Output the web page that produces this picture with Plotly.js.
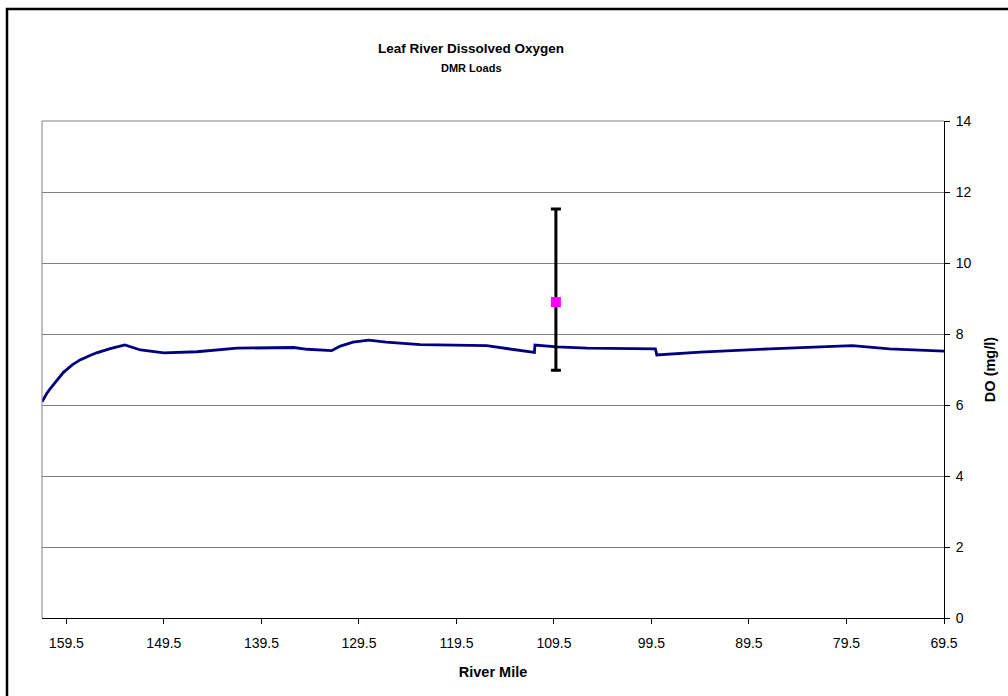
<!DOCTYPE html>
<html>
<head>
<meta charset="utf-8">
<script src="https://cdn.plot.ly/plotly-3.0.1.min.js"></script>
<style>
html,body{margin:0;padding:0;background:#fff;}
#chart{width:1008px;height:696px;}
</style>
</head>
<body>
<div id="chart"></div>
<script>
// Model DO profile (river mile, DO mg/l)
const riverMile = [162.0, 161.8, 161.5, 161.15, 160.46, 159.8, 158.9, 158.1, 157.2, 156.4, 155.0, 153.5, 151.9, 149.5, 146.1, 142.0, 136.2, 134.8, 132.3, 131.4, 130.1, 128.5, 126.7, 123.2, 116.4, 114.0, 111.5, 111.45, 109.2, 106.1, 99.1, 98.95, 94.5, 87.4, 78.9, 75.1, 69.5];
const doModel   = [6.09, 6.20, 6.33, 6.46, 6.70, 6.92, 7.13, 7.27, 7.38, 7.47, 7.59, 7.69, 7.55, 7.47, 7.50, 7.60, 7.62, 7.57, 7.53, 7.66, 7.77, 7.83, 7.77, 7.70, 7.67, 7.57, 7.48, 7.69, 7.64, 7.60, 7.58, 7.41, 7.49, 7.58, 7.67, 7.58, 7.52];

// Observed DO (mean with range)
const obsMile  = [109.3];
const obsDO    = [8.9];
const obsPlus  = [2.62];
const obsMinus = [1.92];

const xTicks = [159.5, 149.5, 139.5, 129.5, 119.5, 109.5, 99.5, 89.5, 79.5, 69.5];
const xTickText = ["159.5", "149.5", "139.5", "129.5", "119.5", "109.5", "99.5", "89.5", "79.5", "69.5"];

const FONT = "Liberation Sans, Arial, sans-serif";

const traces = [
  {
    x: riverMile, y: doModel, type: "scatter", mode: "lines",
    line: {color: "#000080", width: 2.8}, hoverinfo: "skip", showlegend: false
  },
  {
    x: obsMile, y: obsDO, type: "scatter", mode: "markers",
    marker: {symbol: "square", size: 10, color: "#ff00ff"},
    error_y: {type: "data", symmetric: false, array: obsPlus, arrayminus: obsMinus,
              color: "#000000", thickness: 3, width: 5},
    showlegend: false
  }
];

const layout = {
  width: 1008, height: 696,
  margin: {l: 42, r: 64, t: 121, b: 78, pad: 0},
  paper_bgcolor: "#ffffff", plot_bgcolor: "#ffffff",
  font: {family: FONT, size: 14, color: "#000"},
  showlegend: false,
  xaxis: {
    range: [162.0, 69.5], tickmode: "array", tickvals: xTicks, ticktext: xTickText,
    showgrid: false, zeroline: false, showline: true, linecolor: "#000", linewidth: 1,
    ticks: "outside", ticklen: 5, tickcolor: "#000", tickfont: {family: FONT, size: 14},
    ticklabelstandoff: 7,
    title: {text: "<b>River Mile</b>", font: {family: FONT, size: 14.5}, standoff: 17}
  },
  yaxis: {
    side: "right", range: [0, 14], dtick: 2, tick0: 0,
    showgrid: true, gridcolor: "#808080", gridwidth: 1, zeroline: false,
    showline: true, linecolor: "#000", linewidth: 1,
    ticks: "outside", ticklen: 5, tickcolor: "#000", tickfont: {family: FONT, size: 14},
    ticklabelstandoff: 3,
    title: {text: "<b>DO (mg/l)</b>", font: {family: FONT, size: 14.5}, standoff: 14}
  },
  annotations: [
    {text: "<b>Leaf River Dissolved Oxygen</b>", xref: "paper", yref: "paper",
     x: (471 - 42) / 902, y: (618 - 48) / 497, xanchor: "center", yanchor: "middle",
     showarrow: false, font: {family: FONT, size: 13.5}},
    {text: "<b>DMR Loads</b>", xref: "paper", yref: "paper",
     x: (471 - 42) / 902, y: (618 - 68) / 497, xanchor: "center", yanchor: "middle",
     showarrow: false, font: {family: FONT, size: 11}}
  ],
  shapes: [
    {type: "line", xref: "paper", yref: "paper", x0: 0, x1: 0, y0: 0, y1: 1,
     line: {color: "#808080", width: 1}},
    {type: "line", xref: "paper", yref: "paper", x0: 0, x1: 1, y0: 1, y1: 1,
     line: {color: "#808080", width: 1}},
    {type: "rect", xref: "paper", yref: "paper",
     x0: (7 - 42) / 902, x1: (1030 - 42) / 902, y0: (618 - 720) / 497, y1: (618 - 9) / 497,
     line: {color: "#000", width: 2.5}, fillcolor: "rgba(0,0,0,0)"}
  ]
};

Plotly.newPlot("chart", traces, layout, {displayModeBar: false, staticPlot: true});
</script>
</body>
</html>
